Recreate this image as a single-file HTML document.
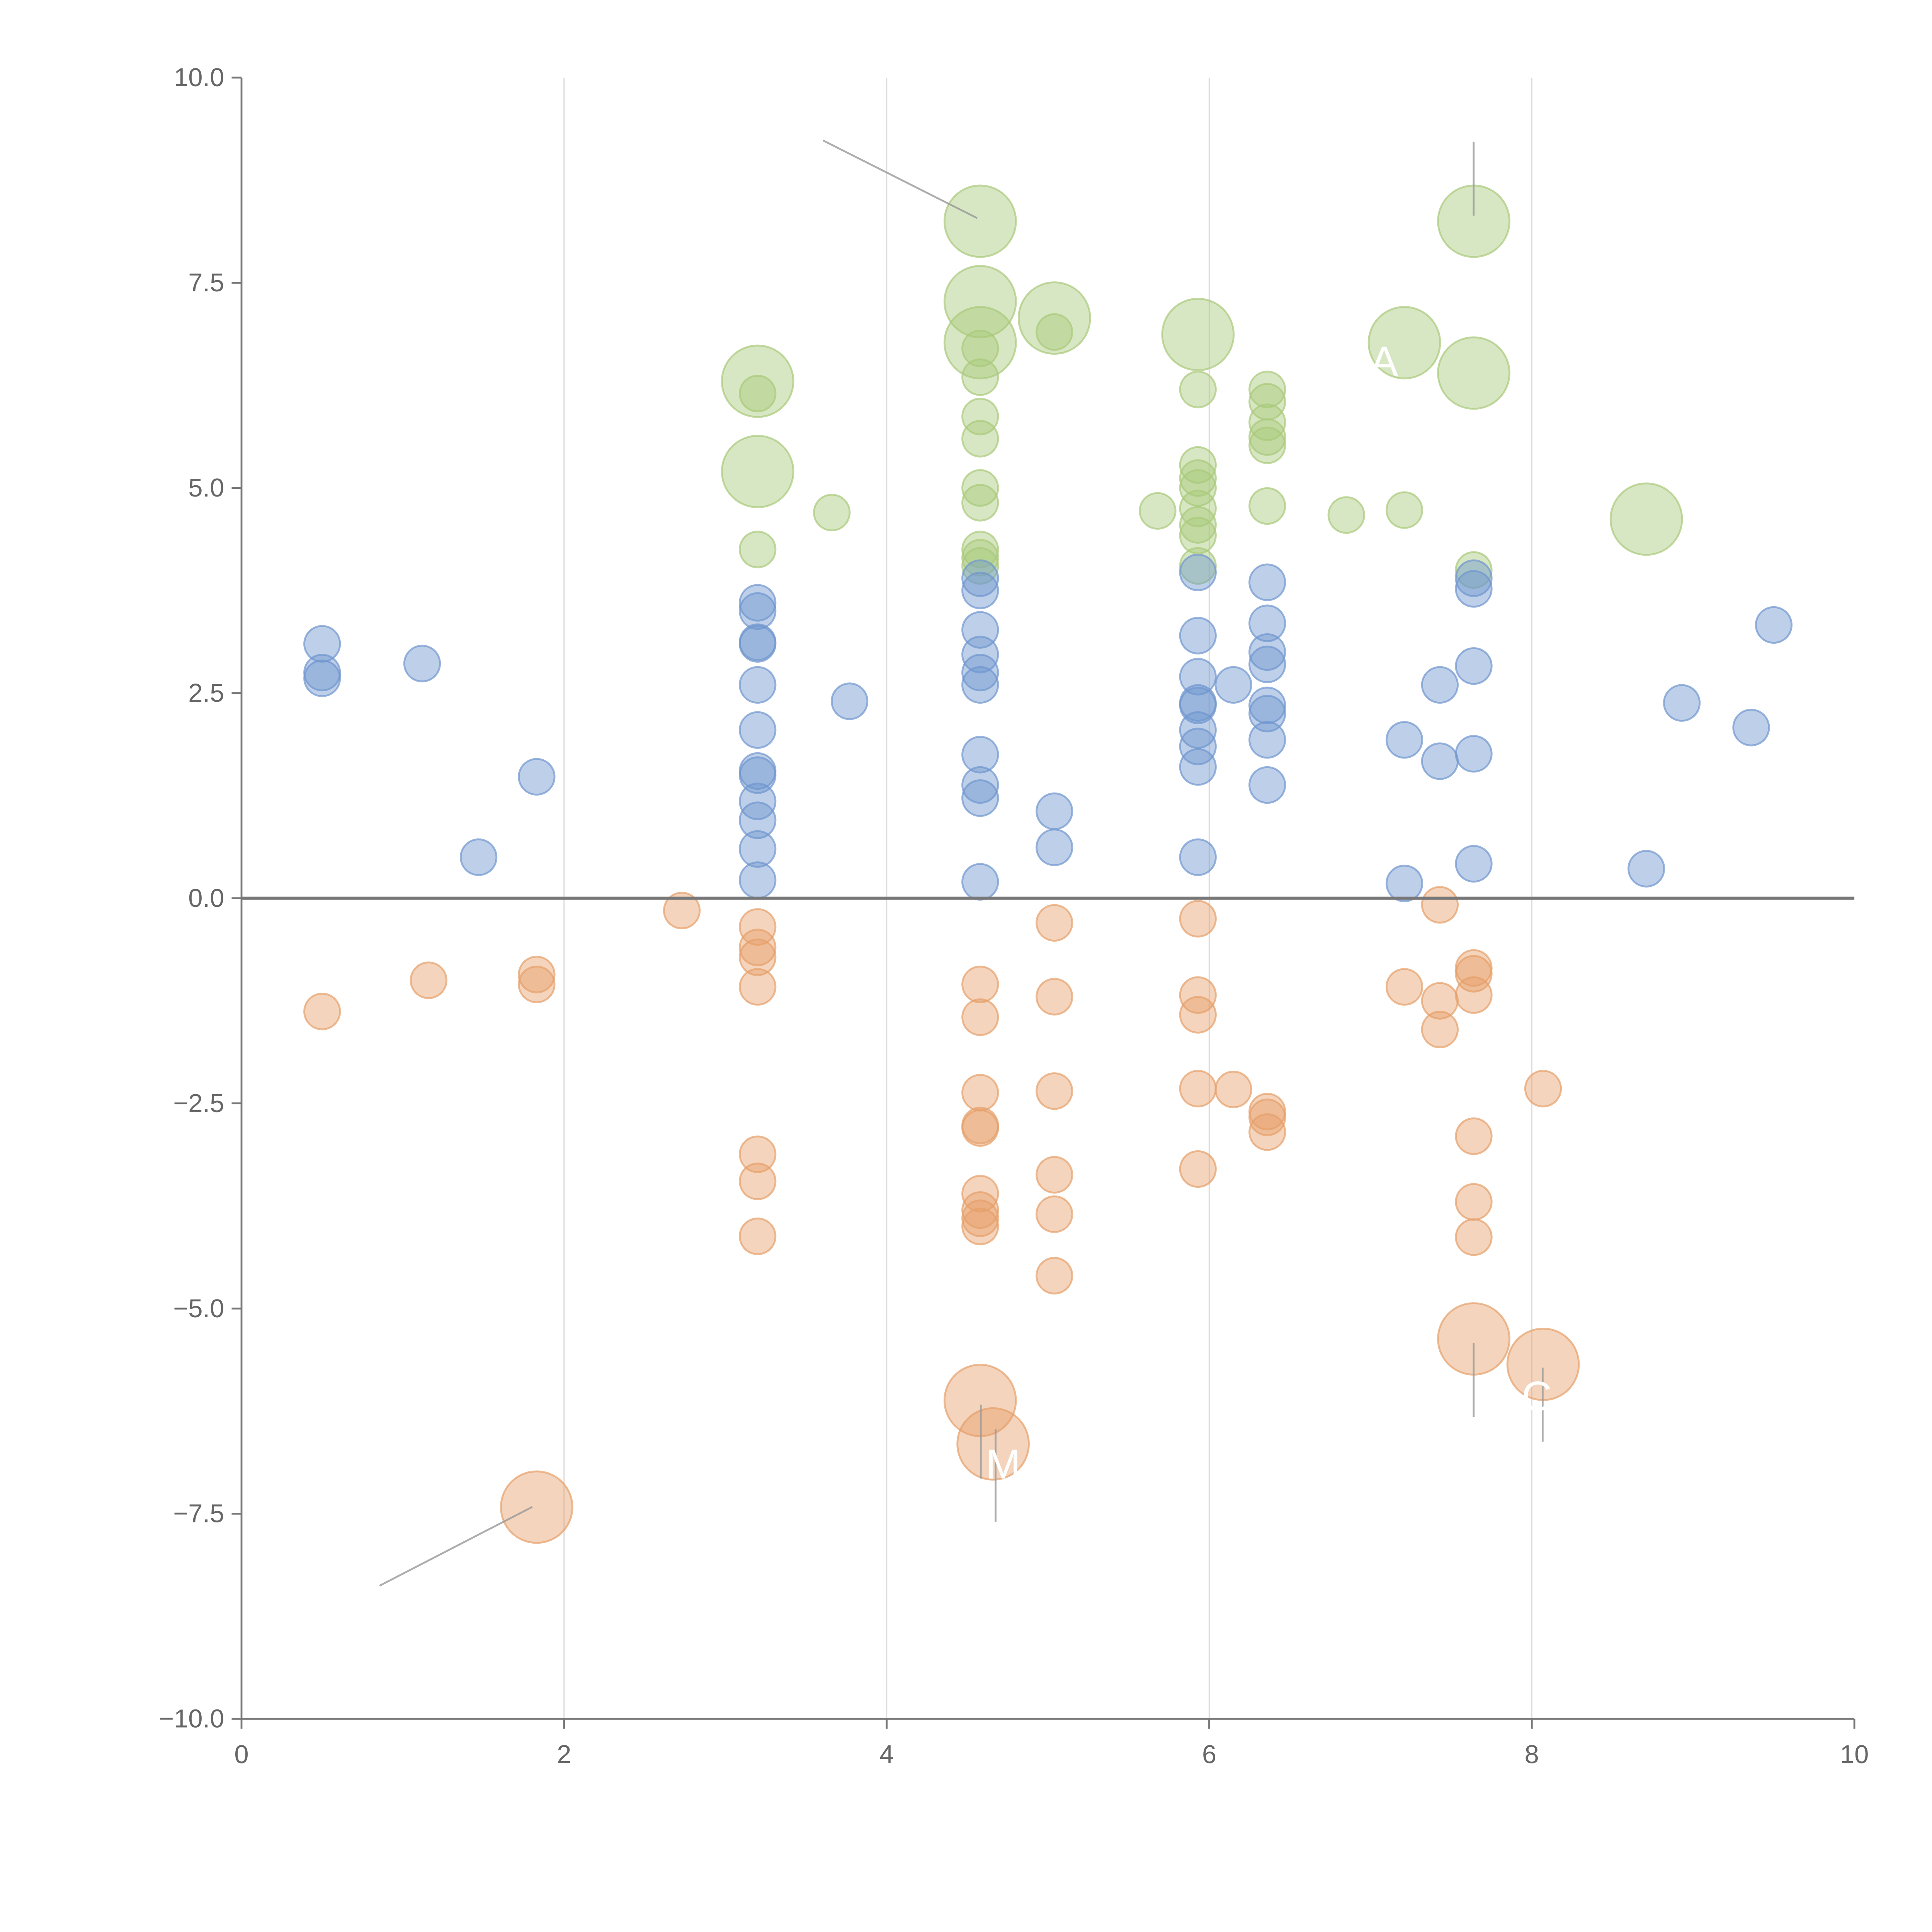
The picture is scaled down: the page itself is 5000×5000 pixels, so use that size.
<!DOCTYPE html>
<html><head><meta charset="utf-8">
<style>
html,body{margin:0;padding:0;background:#fff;}
svg{display:block;}
text{font-family:"Liberation Sans",sans-serif;fill:#666;}
</style></head>
<body>
<svg id="chart" width="5000" height="5000" viewBox="0 0 1568 1568" xmlns="http://www.w3.org/2000/svg">
<g id="grid"></g>
<g id="marks"></g>
<g id="annos"></g>
<g id="axes"></g>
</svg>
<script>
const xTicks=[0,2,4,6,8,10];
const yTicks=[10,7.5,5,2.5,0,-2.5,-5,-7.5,-10];
const yTickLabels=["10.0","7.5","5.0","2.5","0.0","\u22122.5","\u22125.0","\u22127.5","\u221210.0"];
const blueX=[0.5,0.5,0.5,1.12,1.47,1.83,3.2,3.2,3.2,3.2,3.2,3.2,3.2,3.2,3.2,3.2,3.2,3.2,3.77,4.58,4.58,4.58,4.58,4.58,4.58,4.58,4.58,4.58,4.58,5.04,5.04,5.93,5.93,5.93,5.93,5.93,5.93,5.93,5.93,5.93,6.15,6.36,6.36,6.36,6.36,6.36,6.36,6.36,6.36,7.21,7.21,7.43,7.43,7.64,7.64,7.64,7.64,7.64,8.71,8.93,9.36,9.5];
const blueY=[3.1,2.75,2.68,2.86,0.5,1.48,3.6,3.5,3.1,3.12,2.6,2.05,1.55,1.5,1.18,0.95,0.6,0.22,2.4,3.9,3.75,3.27,2.97,2.75,2.6,1.75,1.38,1.22,0.2,1.06,0.62,3.97,3.2,2.7,2.38,2.35,2.05,1.85,1.6,0.5,2.6,3.85,3.35,3.0,2.85,2.35,2.25,1.93,1.38,1.93,0.18,2.6,1.67,3.9,3.77,2.83,1.76,0.42,0.36,2.38,2.08,3.33];
const orangeX=[0.5,1.16,1.83,1.83,2.73,3.2,3.2,3.2,3.2,3.2,3.2,3.2,4.58,4.58,4.58,4.58,4.58,4.58,4.58,4.58,4.58,5.04,5.04,5.04,5.04,5.04,5.04,5.93,5.93,5.93,5.93,5.93,6.15,6.36,6.36,6.36,7.21,7.43,7.43,7.43,7.64,7.64,7.64,7.64,7.64,7.64,8.07];
const orangeY=[-1.38,-1.0,-0.93,-1.05,-0.15,-0.35,-0.6,-0.72,-1.08,-3.12,-3.45,-4.12,-1.05,-1.45,-2.37,-2.77,-2.8,-3.6,-3.8,-3.9,-4.0,-0.3,-1.2,-2.35,-3.37,-3.85,-4.6,-0.25,-1.18,-1.42,-2.32,-3.3,-2.33,-2.6,-2.67,-2.85,-1.08,-0.08,-1.25,-1.6,-0.85,-0.92,-1.18,-2.9,-3.7,-4.13,-2.32];
const orangeBigX=[1.83,4.58,4.66,7.64,8.07];
const orangeBigY=[-7.42,-6.12,-6.65,-5.37,-5.68];
const greenX=[3.2,3.2,3.66,4.58,4.58,4.58,4.58,4.58,4.58,4.58,4.58,4.58,5.04,5.68,5.93,5.93,5.93,5.93,5.93,5.93,5.93,5.93,6.36,6.36,6.36,6.36,6.36,6.36,6.85,7.21,7.64];
const greenY=[6.15,4.25,4.7,6.7,6.35,5.87,5.6,5.0,4.82,4.25,4.15,4.05,6.9,4.72,6.2,5.28,5.12,5.0,4.75,4.55,4.42,4.05,6.2,6.05,5.8,5.62,5.52,4.78,4.67,4.73,4.0];
const greenBigX=[3.2,3.2,4.58,4.58,4.58,5.04,5.93,7.21,7.64,7.64,8.71];
const greenBigY=[6.3,5.2,8.25,7.27,6.77,7.07,6.87,6.77,8.25,6.4,4.62];

const NS="http://www.w3.org/2000/svg";
const X0=196,X1=1505,Y0=1395,Y1=63;
const sx=v=>X0+(v-0)/(10-0)*(X1-X0);
const sy=v=>Y0-(v+10)/20*(Y0-Y1);
function mk(tag,attrs,parent){const e=document.createElementNS(NS,tag);for(const k in attrs)e.setAttribute(k,attrs[k]);parent.appendChild(e);return e;}
const grid=document.getElementById('grid'),marks=document.getElementById('marks'),axes=document.getElementById('axes'),annos=document.getElementById('annos');

xTicks.forEach(t=>{if(t>0&&t<10){const l=mk('line',{x1:sx(t),x2:sx(t),y1:sy(10),y2:sy(-10),stroke:'#ddd','stroke-width':1},grid);

}});

function bubbles(xs,ys,r,color,name){
  xs.forEach((x,i)=>{const c=mk('circle',{cx:sx(x),cy:sy(ys[i]),r:r,fill:color,'fill-opacity':0.45,stroke:color,'stroke-opacity':0.7,'stroke-width':1.5},marks);
  
  });
}
bubbles(greenBigX,greenBigY,29,'#a9c97a','bubble-green-large');
bubbles(greenX,greenY,14.5,'#a9c97a','bubble-green');
bubbles(blueX,blueY,14.5,'#6f96cf','bubble-blue');
bubbles(orangeX,orangeY,14.5,'#e6a06a','bubble-orange');
bubbles(orangeBigX,orangeBigY,29,'#e6a06a','bubble-orange-large');

[[668,114,793,177],[1196,115,1196,175],[308,1287,432,1223],[796,1140,796,1200],[808,1160,808,1235],[1196,1090,1196,1150],[1252,1110,1252,1170]].forEach(a=>{
 const l=mk('line',{x1:a[0],y1:a[1],x2:a[2],y2:a[3],stroke:'#999','stroke-width':1.5,'stroke-opacity':0.8},annos);
 
 
});
[[800,1200,'M'],[1112,305,'A'],[1235,1145,'C']].forEach(a=>{
 const t=mk('text',{x:a[0],y:a[1],'font-size':34,style:'fill:#fff'},annos);t.textContent=a[2];
 
 
});

const zl=mk('line',{x1:sx(0),x2:sx(10),y1:sy(0),y2:sy(0),stroke:'#777','stroke-width':2.5},axes);


const ya=mk('line',{x1:X0,x2:X0,y1:Y1,y2:Y0,stroke:'#777','stroke-width':1.5},axes);


const xa=mk('line',{x1:X0,x2:X1,y1:Y0,y2:Y0,stroke:'#777','stroke-width':1.5},axes);


yTicks.forEach((t,i)=>{
 mk('line',{x1:X0-8,x2:X0,y1:sy(t),y2:sy(t),stroke:'#777','stroke-width':1.5},axes);
 const tx=mk('text',{x:X0-14,y:sy(t)+7,'text-anchor':'end','font-size':21},axes);tx.textContent=yTickLabels[i];
 
 
});
xTicks.forEach(t=>{
 mk('line',{x1:sx(t),x2:sx(t),y1:Y0,y2:Y0+8,stroke:'#777','stroke-width':1.5},axes);
 const tx=mk('text',{x:sx(t),y:Y0+36,'text-anchor':'middle','font-size':21},axes);tx.textContent=String(t);
 
 
});
</script>
</body></html>
